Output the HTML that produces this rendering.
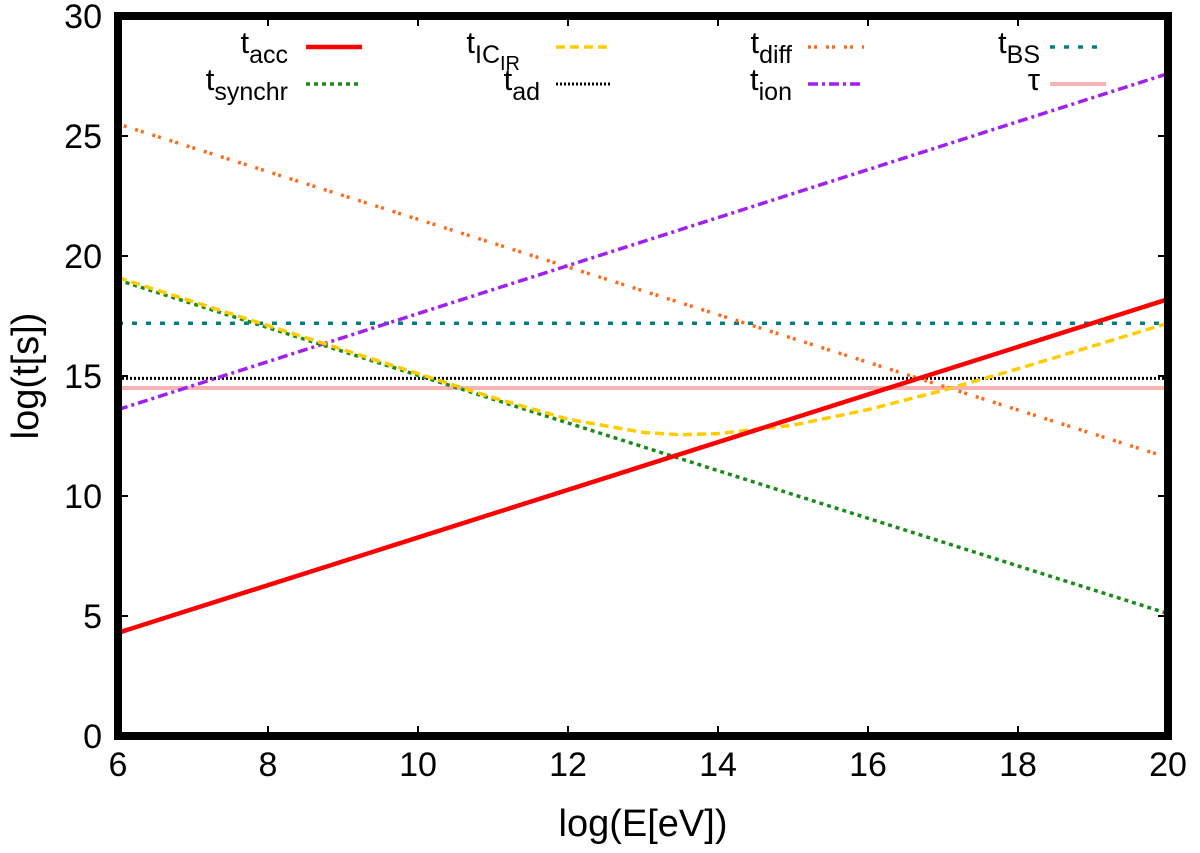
<!DOCTYPE html>
<html><head><meta charset="utf-8"><style>
body{margin:0;background:#fff}
svg text{font-family:"Liberation Sans",sans-serif;fill:#000}
</style></head><body>
<svg width="1200" height="848" id="c">
<g id="marks"></g>
<rect x="118" y="16" width="1050" height="720" fill="none" stroke="#000" stroke-width="8"/>
<g id="axes"></g>
<text x="643" y="836" font-size="38" text-anchor="middle">log(E[eV])</text>
<text transform="translate(38,376) rotate(-90)" font-size="38" text-anchor="middle">log(t[s])</text>
<g id="legend" font-size="31"></g>
</svg>
<script>
const xTicks=[6,8,10,12,14,16,18,20];
const yTicks=[0,5,10,15,20,25,30];
const accX=[6,20], accY=[4.3,18.2];
const synX=[6,20], synY=[19.0,5.1];
const icX=[6,8,10,11,12,13,13.5,14,15,16,17,18,19,20];
const icY=[19.1,17.1,15.1,14.1,13.2,12.65,12.55,12.6,12.95,13.6,14.4,15.3,16.25,17.2];
const diffX=[6,20], diffY=[25.5,11.6];
const ionX=[6,20], ionY=[13.6,27.6];
const bsX=[6,20], bsY=[17.2,17.2];
const adX=[6,20], adY=[14.9,14.9];
const tauX=[6,20], tauY=[14.5,14.5];
const ns="http://www.w3.org/2000/svg";
const X=v=>118+(v-6)*75, Y=v=>736-v*24;
const marks=document.getElementById('marks'),axes=document.getElementById('axes'),leg=document.getElementById('legend');
function mk(t,a,p){const e=document.createElementNS(ns,t);for(const k in a)e.setAttribute(k,a[k]);p.appendChild(e);return e;}
const series=[
 {n:'tau',x:tauX,y:tauY,c:'#f4b4b4',w:4,d:''},
 {n:'t-ad',x:adX,y:adY,c:'#000',w:3,d:'2 2'},
 {n:'t-bs',x:bsX,y:bsY,c:'#008080',w:3.5,d:'5 9'},
 {n:'t-diff',x:diffX,y:diffY,c:'#ff6a1a',w:3.5,d:'3 3 3 9'},
 {n:'t-ion',x:ionX,y:ionY,c:'#a020f0',w:3.5,d:'10 4 3 4'},
 {n:'t-synchr',x:synX,y:synY,c:'#1a8a1a',w:3.5,d:'4 4'},
 {n:'t-ic-ir',x:icX,y:icY,c:'#ffcc00',w:3.5,d:'9 5'},
 {n:'t-acc',x:accX,y:accY,c:'#ff0000',w:4.5,d:''}];
series.forEach(s=>{
 const p=mk('polyline',{points:s.x.map((v,i)=>X(v)+','+Y(s.y[i])).join(' '),fill:'none',stroke:s.c,'stroke-width':s.w,'stroke-dasharray':s.d},marks);
 
 
});
xTicks.forEach(v=>{
 const l=mk('line',{x1:X(v),x2:X(v),y1:736,y2:726,stroke:'#000','stroke-width':2},axes);
 
 
 mk('line',{x1:X(v),x2:X(v),y1:16,y2:26,stroke:'#000','stroke-width':2},axes);
 const t=mk('text',{x:X(v),y:776,'font-size':34,'text-anchor':'middle'},axes);t.textContent=v;
 
 
});
yTicks.forEach(v=>{
 mk('line',{x1:118,x2:128,y1:Y(v),y2:Y(v),stroke:'#000','stroke-width':2},axes);
 mk('line',{x1:1158,x2:1168,y1:Y(v),y2:Y(v),stroke:'#000','stroke-width':2},axes);
 const t=mk('text',{x:102,y:Y(v)+12,'font-size':34,'text-anchor':'end'},axes);t.textContent=v;
 
 
});
const L=[
 ['t','acc',288,47,306,'t-acc'],['t','synchr',288,84,306,'t-synchr'],
 ['t','IC',520,47,556,'t-ic-ir'],['t','ad',540,84,556,'t-ad'],
 ['t','diff',792,47,808,'t-diff'],['t','ion',792,84,808,'t-ion'],
 ['t','BS',1040,47,1050,'t-bs'],['τ','',1040,84,1050,'tau']];
L.forEach(e=>{
 const s=series.find(q=>q.n===e[5]);
 const g=mk('g',{},leg);
 
 
 const t=mk('text',{x:e[2],y:e[3]+6,'text-anchor':'end'},g);
 t.innerHTML=e[0]+'<tspan dy="10" font-size="25">'+e[1]+'</tspan>'+(e[5]==='t-ic-ir'?'<tspan dy="7" font-size="20">IR</tspan>':'');
 mk('line',{x1:e[4],x2:e[4]+56,y1:e[3],y2:e[3],stroke:s.c,'stroke-width':s.w,'stroke-dasharray':s.d},g);
});
</script>
</body></html>
